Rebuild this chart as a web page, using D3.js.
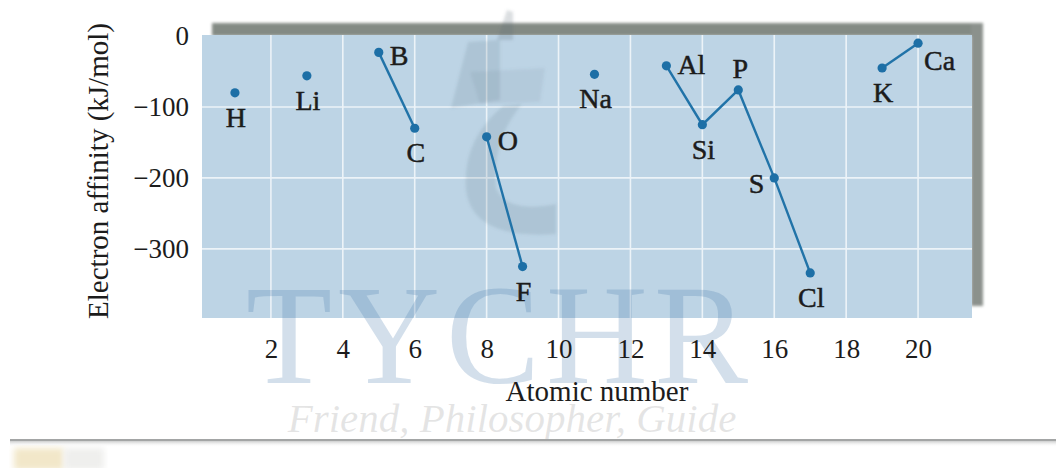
<!DOCTYPE html>
<html>
<head>
<meta charset="utf-8">
<script src="https://cdn.jsdelivr.net/npm/d3@7"></script>
<style>
  html, body { margin: 0; padding: 0; background: #ffffff; }
  svg { display: block; }
  svg text { font-family: "Liberation Serif", "Times New Roman", Times, Tinos, "Nimbus Roman", serif; }
</style>
</head>
<body>
<svg id="chart" width="1056" height="468"></svg>
<script>
// Electron affinity of the first twenty elements (kJ/mol)
const symbols  = ["H", "Li", "B", "C", "O", "F", "Na", "Al", "Si", "P", "S", "Cl", "K", "Ca"];
const atomicNo = [1, 3, 5, 6, 8, 9, 11, 13, 14, 15, 16, 17, 19, 20];
const affinity = [-80, -56, -23, -130, -142, -325, -54, -42, -125, -76, -200, -334, -45, -10];

// Elements joined by a line segment
const segments = [["B", "C"], ["O", "F"], ["Al", "Si", "P", "S", "Cl"], ["K", "Ca"]];

const xTicks = [2, 4, 6, 8, 10, 12, 14, 16, 18, 20];
const yTicks = [0, -100, -200, -300];

// Where each element's label sits relative to its point
const labelSide = {
  H: "below", Li: "below", B: "right", C: "below", O: "right", F: "below",
  Na: "below", Al: "rightup", Si: "below", P: "above", S: "left", Cl: "below",
  K: "below", Ca: "rightlow"
};

const svg = d3.select("#chart");
const plot = { left: 202, right: 972, top: 35, bottom: 318 };

const x = d3.scaleLinear().domain([0, 21.5]).range([199, 972]);
const y = d3.scaleLinear().domain([1.5, -397.5]).range([plot.top, plot.bottom]);

const points = symbols.map((s, i) => ({ sym: s, z: atomicNo[i], v: affinity[i] }));
const bySym = new Map(points.map(p => [p.sym, p]));

const defs = svg.append("defs");
defs.append("filter").attr("id", "soft").append("feGaussianBlur").attr("stdDeviation", 1.8);
defs.append("filter").attr("id", "softer").append("feGaussianBlur").attr("stdDeviation", 3);
const grad = defs.append("linearGradient").attr("id", "rule").attr("x1", 0).attr("x2", 0).attr("y1", 0).attr("y2", 1);
grad.append("stop").attr("offset", 0).attr("stop-color", "#a4a6a6");
grad.append("stop").attr("offset", 1).attr("stop-color", "#ffffff").attr("stop-opacity", 0);

// Drop shadow of the panel (top and right edges)
const shadow = svg.append("g").attr("filter", "url(#soft)");
shadow.append("rect")
  .attr("x", plot.left + 10).attr("y", plot.top - 12)
  .attr("width", plot.right - plot.left + 1).attr("height", 13)
  .attr("fill", "#838a84");
shadow.append("rect")
  .attr("x", plot.right - 1).attr("y", plot.top - 11)
  .attr("width", 12).attr("height", 282)
  .attr("fill", "#8b918c");

// Panel
svg.append("rect")
  .attr("x", plot.left).attr("y", plot.top)
  .attr("width", plot.right - plot.left).attr("height", plot.bottom - plot.top)
  .attr("fill", "#bdd4e5");

// Grid
const grid = svg.append("g").attr("stroke", "#f2f7fb").attr("stroke-width", 1.6).attr("opacity", 0.9);
grid.selectAll("line.v").data(xTicks).join("line")
  .attr("x1", d => x(d)).attr("x2", d => x(d))
  .attr("y1", plot.top).attr("y2", plot.bottom);
grid.selectAll("line.h").data(yTicks.filter(d => d !== 0)).join("line")
  .attr("x1", plot.left).attr("x2", plot.right)
  .attr("y1", d => y(d)).attr("y2", d => y(d));

// Logo watermark
const logo = svg.append("g").attr("filter", "url(#soft)");
logo.append("path")
  .attr("d", "M497 40 L507 10 L513 12 L513 40 Z")
  .attr("fill", "rgba(90,105,120,0.22)");
logo.append("path")
  .attr("d", "M451 108 L468 42 L500 40 L500 100 Z")
  .attr("fill", "rgba(90,110,130,0.16)");
logo.append("path")
  .attr("d", "M470 72 L545 68 L540 102 L480 104 Z")
  .attr("fill", "rgba(90,110,130,0.10)");
logo.append("path")
  .attr("d", "M503 106 L522 104 Q492 140 496 188 Q506 214 556 204 L556 234 Q472 240 466 190 Q462 140 503 106 Z")
  .attr("fill", "rgba(90,110,130,0.16)");

// Text watermark
svg.append("text")
  .attr("x", 500).attr("y", 383)
  .attr("text-anchor", "middle")
  .attr("font-size", 141)
  .attr("letter-spacing", 6)
  .attr("fill", "rgba(70,120,170,0.24)")
  .text("TYCHR");
svg.append("text")
  .attr("x", 512).attr("y", 432)
  .attr("text-anchor", "middle")
  .attr("font-size", 41)
  .attr("font-style", "italic")
  .attr("fill", "rgba(150,150,150,0.25)")
  .text("Friend, Philosopher, Guide");

// Axes (labels only, no domain lines or tick marks)
const xAxis = svg.append("g")
  .attr("transform", `translate(0,${plot.bottom})`)
  .call(d3.axisBottom(x).tickValues(xTicks).tickSize(0).tickPadding(21));
const yAxis = svg.append("g")
  .attr("transform", `translate(${plot.left},0)`)
  .call(d3.axisLeft(y).tickValues(yTicks).tickSize(0).tickPadding(13)
    .tickFormat(d => d === 0 ? "0" : "\u2212" + Math.abs(d)));
[xAxis, yAxis].forEach(a => {
  a.select(".domain").remove();
  a.selectAll("text")
    .attr("font-family", null)
    .attr("font-size", 27)
    .attr("fill", "#1c1c1c");
});

// Axis titles
svg.append("text")
  .attr("x", 597).attr("y", 401)
  .attr("text-anchor", "middle")
  .attr("font-size", 29)
  .attr("fill", "#1c1c1c")
  .text("Atomic number");
svg.append("text")
  .attr("transform", "translate(108,171) rotate(-90)")
  .attr("text-anchor", "middle")
  .attr("font-size", 29)
  .attr("fill", "#1c1c1c")
  .text("Electron affinity (kJ/mol)");

// Connecting lines
const line = d3.line().x(p => x(p.z)).y(p => y(p.v));
svg.append("g").selectAll("path").data(segments).join("path")
  .attr("d", seg => line(seg.map(s => bySym.get(s))))
  .attr("fill", "none")
  .attr("stroke", "#2173a8")
  .attr("stroke-width", 2.4);

// Points
svg.append("g").selectAll("circle").data(points).join("circle")
  .attr("cx", p => x(p.z)).attr("cy", p => y(p.v))
  .attr("r", 4.6)
  .attr("fill", "#1d6fa6");

// Element labels
const offsets = {
  below: [1, 34, "middle"],
  above: [2, -12, "middle"],
  right: [11, 13, "start"],
  rightup: [11, 8, "start"],
  left: [-10, 15, "end"],
  rightlow: [6, 27, "start"]
};
svg.append("g").selectAll("text").data(points).join("text")
  .attr("x", p => x(p.z) + offsets[labelSide[p.sym]][0])
  .attr("y", p => y(p.v) + offsets[labelSide[p.sym]][1])
  .attr("text-anchor", p => offsets[labelSide[p.sym]][2])
  .attr("font-size", 28)
  .attr("fill", "#1c1c1c")
  .attr("stroke", "#1c1c1c")
  .attr("stroke-width", 0.5)
  .text(p => p.sym);

// Footer rule and corner block
svg.append("rect")
  .attr("x", 10).attr("y", 439).attr("width", 1046).attr("height", 8)
  .attr("fill", "url(#rule)");
svg.append("rect")
  .attr("x", 10).attr("y", 439).attr("width", 1046).attr("height", 2)
  .attr("fill", "#a3a5a5");
svg.append("rect")
  .attr("x", 14).attr("y", 448).attr("width", 50).attr("height", 22)
  .attr("fill", "#f2e7c9")
  .attr("filter", "url(#softer)");
svg.append("rect")
  .attr("x", 64).attr("y", 448).attr("width", 40).attr("height", 22)
  .attr("fill", "#efefed")
  .attr("filter", "url(#softer)");
</script>
</body>
</html>
